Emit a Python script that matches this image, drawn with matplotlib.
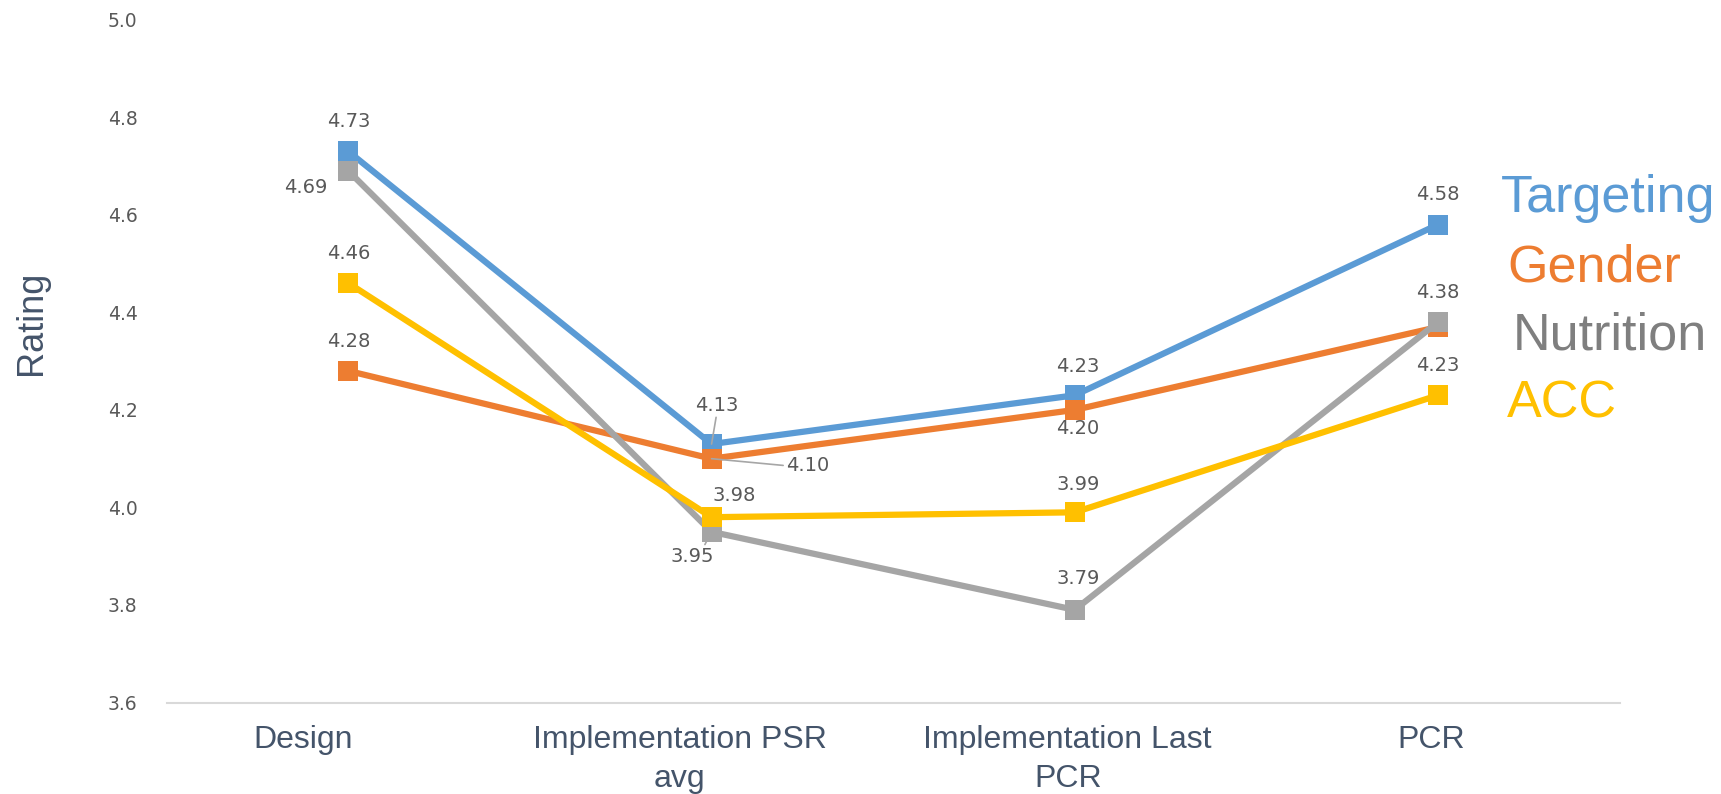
import matplotlib
matplotlib.use("Agg")
import matplotlib.pyplot as plt
from matplotlib.ticker import FixedLocator, FormatStrFormatter
from matplotlib.transforms import ScaledTranslation

# ---- data ----
categories = ["Design", "Implementation PSR\navg", "Implementation Last\nPCR", "PCR"]
series_names = ["Targeting", "Gender", "Nutrition", "ACC"]
targeting = [4.73, 4.13, 4.23, 4.58]
gender = [4.28, 4.10, 4.20, 4.37]
nutrition = [4.69, 3.95, 3.79, 4.38]
acc = [4.46, 3.98, 3.99, 4.23]
y_ticks = [3.6, 3.8, 4.0, 4.2, 4.4, 4.6, 4.8, 5.0]

# ---- styling ----
line_colors = ["#5B9BD5", "#ED7D31", "#A5A5A5", "#FFC000"]
name_colors = ["#5B9BD5", "#ED7D31", "#7F7F7F", "#FFC000"]
label_color = "#595959"
axis_text_color = "#44546A"
leader_color = "#A6A6A6"

# value-label placement per series/point: (dx px, dy px, leader relpos or None); None = no label
label_layout = [
    [(0, 30, None), (5, 39, (0.5, 0.0)), (3, 29, None), (0, 30, None)],
    [(0, 29, None), (96, -7, (0.0, 0.5)), (3, -19, None), None],
    [(-43, -17, None), (-19, -25, (0.75, 1.0)), (3, 31, None), (0, 30, None)],
    [(0, 30, None), (23, 22, None), (3, 28, None), (0, 30, None)],
]
# horizontal nudge (px) of each category label
xlabel_shift = [-45, -32, -7, -7]

W, H = 1721, 794
DPI = 100
fig = plt.figure(figsize=(W / DPI, H / DPI), dpi=DPI)
ax = fig.add_axes([166.8 / W, 91.5 / H, 1452.7 / W, 682.7 / H])

x = list(range(len(categories)))
all_series = [targeting, gender, nutrition, acc]

for i, values in enumerate(all_series):
    ax.plot(x, values, color=line_colors[i], lw=4.5, marker="s", markersize=14.5,
            markeredgewidth=0, solid_joinstyle="round", clip_on=False, zorder=2 + i * 0.1)

for i, values in enumerate(all_series):
    for j, v in enumerate(values):
        spec = label_layout[i][j]
        if spec is None:
            continue
        dx, dy, relpos = spec
        kw = {}
        if relpos is not None:
            kw["arrowprops"] = dict(arrowstyle="-", color=leader_color, lw=1.2,
                                    shrinkA=0, shrinkB=0, relpos=relpos)
        ax.annotate(f"{v:.2f}", xy=(j, v), xytext=(dx, dy), textcoords="offset pixels",
                    ha="center", va="center", fontsize=14, color=label_color,
                    family="DejaVu Sans", zorder=5, **kw)

ax.set_xlim(-0.5, len(categories) - 0.5)
ax.set_ylim(y_ticks[0], y_ticks[-1])
ax.yaxis.set_major_locator(FixedLocator(y_ticks))
ax.yaxis.set_major_formatter(FormatStrFormatter("%.1f"))
ax.set_xticks(x)
ax.set_xticklabels(categories, fontsize=23, color=axis_text_color,
                   family="Liberation Sans", linespacing=1.4)

for s in ["top", "right", "left"]:
    ax.spines[s].set_visible(False)
ax.spines["bottom"].set_color("#D9D9D9")
ax.spines["bottom"].set_linewidth(1.5)

ax.tick_params(axis="x", length=0, pad=16)
ax.tick_params(axis="y", length=0, pad=21, labelsize=13.5, labelcolor=label_color)

# nudge category labels sideways (after tick_params, which resets label transforms)
for tick, shift in zip(ax.xaxis.get_major_ticks(), xlabel_shift):
    lbl = tick.label1
    lbl.set_transform(lbl.get_transform() + ScaledTranslation(shift / DPI, 0, fig.dpi_scale_trans))

fig.text(31 / W, 1 - 323 / H, "Rating", rotation=90, ha="center", va="center",
         fontsize=26, color=axis_text_color, family="Liberation Sans")

name_pos = [(1501, 212), (1507, 282), (1513, 350), (1507, 417)]
for name, col, (px, py) in zip(series_names, name_colors, name_pos):
    fig.text(px / W, 1 - py / H, name, ha="left", va="baseline", fontsize=37.5,
             color=col, family="Liberation Sans")

fig.savefig("out.png", dpi=DPI)
